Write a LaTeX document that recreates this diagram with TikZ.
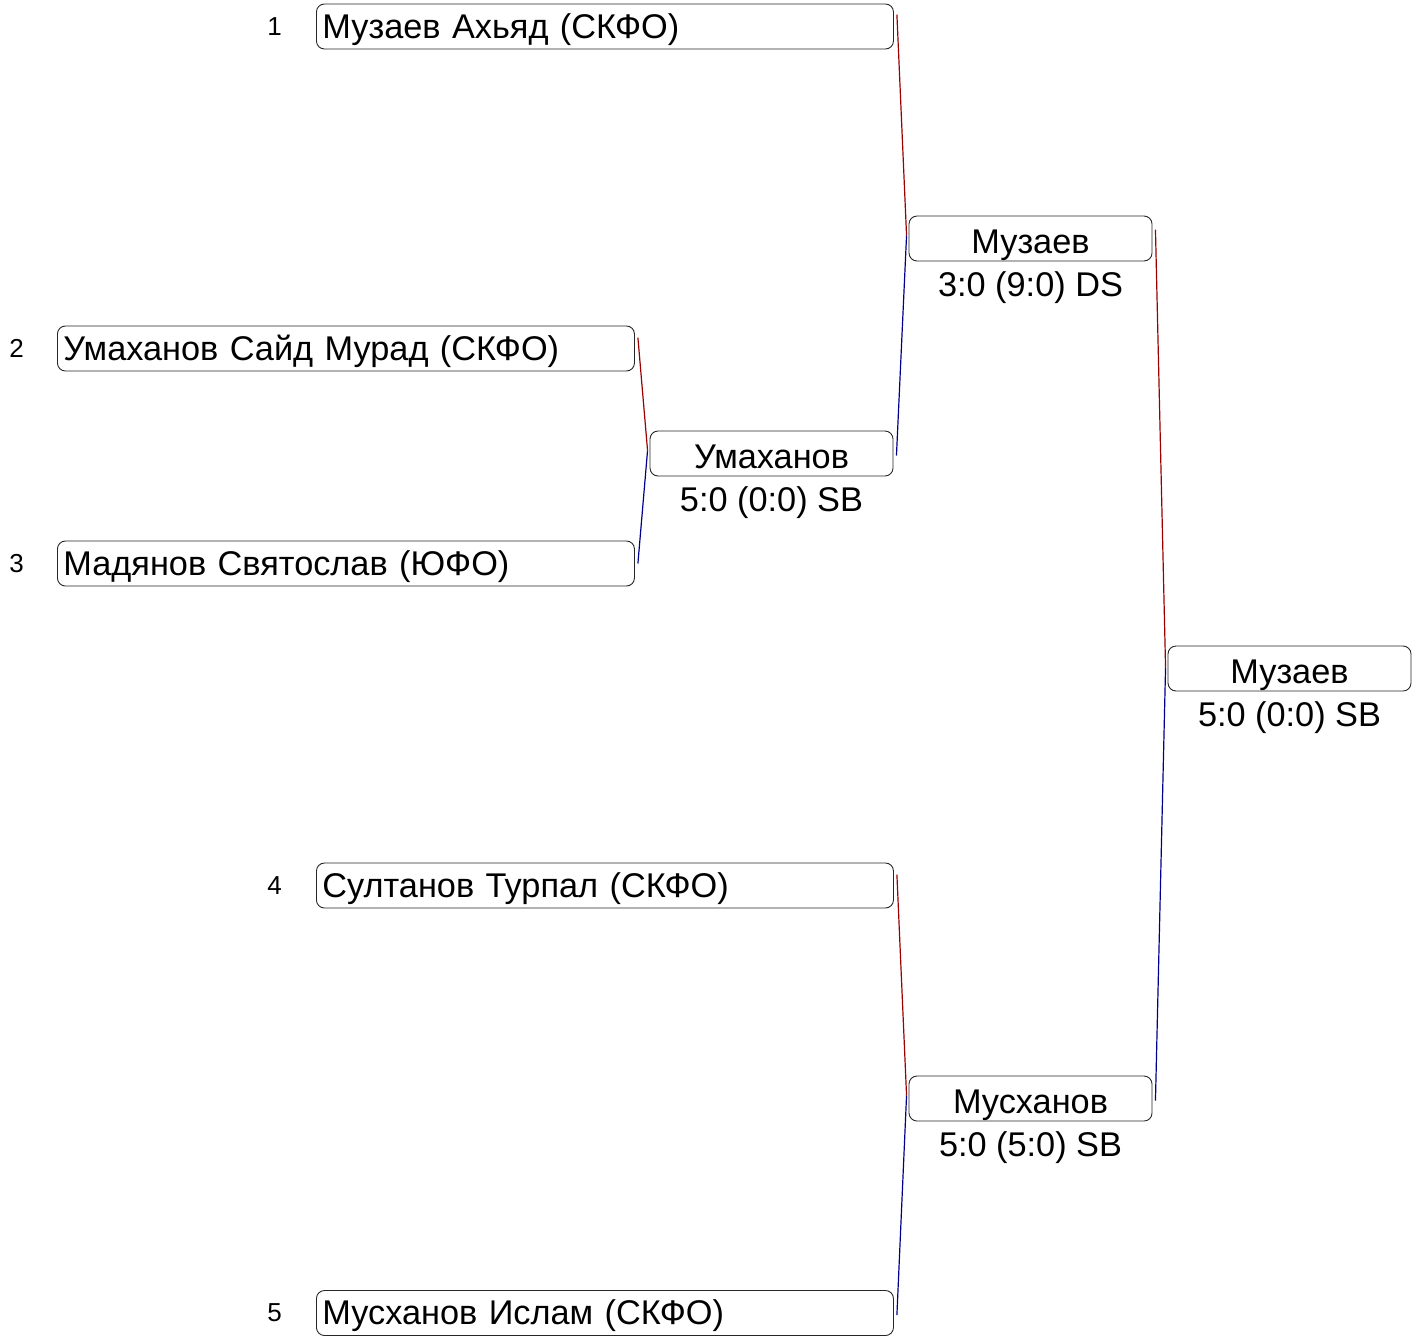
\documentclass[tikz,border=0pt]{standalone}
\usepackage{fontspec}
\setmainfont{Liberation Sans}
\usetikzlibrary{positioning, calc}
\definecolor{WinRed}{HTML}{9B0000}
\definecolor{LoseBlue}{HTML}{00008B}

\tikzset{
  player/.style={draw=black!85, line width=0.9pt, rounded corners=8pt, text height=34pt, text depth=11pt,
    text width=565pt, inner xsep=6pt, inner ysep=0pt, align=left, anchor=west,
    font=\fontsize{34.3}{38}\selectfont},
  match/.style={draw=black!85, line width=0.9pt, rounded corners=8pt, text height=37pt, text depth=8pt,
    minimum width=243pt, inner sep=0pt, font=\fontsize{34.3}{38}\selectfont},
  score/.style={inner sep=0pt, font=\fontsize{34.3}{38}\selectfont},
  seed/.style={inner sep=0pt, font=\fontsize{26}{30}\selectfont},
  win/.style={draw=WinRed, line width=1.2pt},
  lose/.style={draw=LoseBlue, line width=1.2pt}
}

\begin{document}
\begin{tikzpicture}[x=1pt, y=-1pt]
  \useasboundingbox (0,0) rectangle (1420,1336);
  % Players
  \node[player] (P1) at (316, 26.5) {Музаев Ахьяд (СКФО)};
  \node[player] (P2) at (57, 348.5) {Умаханов Сайд Мурад (СКФО)};
  \node[player] (P3) at (57, 563.5) {Мадянов Святослав (ЮФО)};
  \node[player] (P4) at (316, 885.5) {Султанов Турпал (СКФО)};
  \node[player] (P5) at (316, 1313) {Мусханов Ислам (СКФО)};
  % Seeds
  \node[seed, left=34pt of P1] (S1) {1};
  \node[seed, left=33pt of P2] (S2) {2};
  \node[seed, left=33pt of P3] (S3) {3};
  \node[seed, left=34pt of P4] (S4) {4};
  \node[seed, left=34pt of P5] (S5) {5};
  % Bouts
  \node[match] (M1) at (771.5, 453.5) {Умаханов};
  \node[score, below=10pt of M1] (R1) {5:0 (0:0) SB};
  \node[match] (M2) at (1030.5, 238.5) {Музаев};
  \node[score, below=10pt of M2] (R2) {3:0 (9:0) DS};
  \node[match] (M3) at (1030.5, 1098.5) {Мусханов};
  \node[score, below=10pt of M3] (R3) {5:0 (5:0) SB};
  \node[match] (M4) at (1289.5, 668.5) {Музаев};
  \node[score, below=10pt of M4] (R4) {5:0 (0:0) SB};
  % Connectors
  \draw[win] ($(P2.north east)+(3,12)$) -- ($(M1.west)+(-2,-3)$);
  \draw[lose] ($(M1.west)+(-2,-3)$) -- ($(P3.east)+(3,0)$);
  \draw[win] ($(P1.north east)+(3,11)$) -- ($(M2.west)+(-2,-3)$);
  \draw[lose] ($(M2.west)+(-2,-3)$) -- ($(M1.east)+(3,2)$);
  \draw[win] ($(P4.north east)+(3,12)$) -- ($(M3.west)+(-2,-3)$);
  \draw[lose] ($(M3.west)+(-2,-3)$) -- ($(P5.east)+(3,2)$);
  \draw[win] ($(M2.north east)+(3,14)$) -- ($(M4.west)+(-2,-1)$);
  \draw[lose] ($(M4.west)+(-2,-1)$) -- ($(M3.east)+(3,2)$);
\end{tikzpicture}
\end{document}
